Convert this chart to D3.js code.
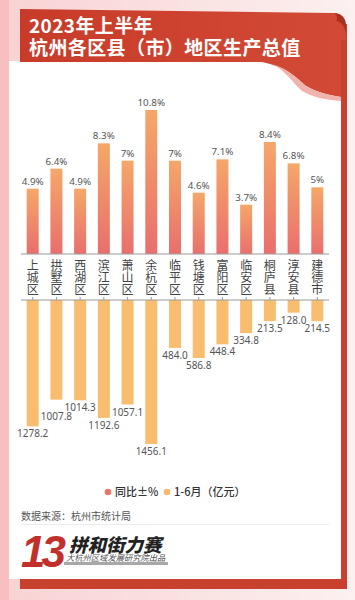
<!DOCTYPE html>
<html><head><meta charset="utf-8">
<script src="https://cdn.jsdelivr.net/npm/d3@7/dist/d3.min.js"></script>
<style>html,body{margin:0;padding:0;background:#fbe6e7;}svg{display:block;}</style>
</head><body>
<svg id="c" width="355" height="600"></svg>
<script>
const categories = ["上城区","拱墅区","西湖区","滨江区","萧山区","余杭区","临平区","钱塘区","富阳区","临安区","桐庐县","淳安县","建德市"];
const growth = [4.9, 6.4, 4.9, 8.3, 7, 10.8, 7, 4.6, 7.1, 3.7, 8.4, 6.8, 5];
const growthLabels = ["4.9%","6.4%","4.9%","8.3%","7%","10.8%","7%","4.6%","7.1%","3.7%","8.4%","6.8%","5%"];
const gdp = [1278.2, 1007.8, 1014.3, 1192.6, 1057.1, 1456.1, 484.0, 586.8, 448.4, 334.8, 213.5, 128.0, 214.5];
const seriesNames = ["同比±%", "1-6月（亿元）"];
const titleLines = ["2023年上半年", "杭州各区县（市）地区生产总值"];
const sourceText = "数据来源：杭州市统计局";

const svg = d3.select("#c");
const defs = svg.append("defs");
const CJK = "'Noto Sans CJK SC','Noto Sans',sans-serif";
const NUM = "'Noto Sans','Open Sans',sans-serif";

// gradients
const bg = defs.append("linearGradient").attr("id","bg").attr("x1","0").attr("x2","1").attr("y1","0").attr("y2","0");
bg.append("stop").attr("offset","0").attr("stop-color","#f9d2d3");
bg.append("stop").attr("offset","1").attr("stop-color","#fcf0f0");
const bn = defs.append("linearGradient").attr("id","bn").attr("x1","0").attr("x2","1").attr("y1","0").attr("y2","0");
bn.append("stop").attr("offset","0").attr("stop-color","#c83b29");
bn.append("stop").attr("offset","1").attr("stop-color","#d24a36");
const gb = defs.append("linearGradient").attr("id","gb").attr("x1","0").attr("x2","0").attr("y1","0").attr("y2","1");
gb.append("stop").attr("offset","0").attr("stop-color","#f5a769");
gb.append("stop").attr("offset","1").attr("stop-color","#e96f6d");

// background
svg.append("rect").attr("width",355).attr("height",600).attr("fill","url(#bg)");
svg.append("rect").attr("x",0).attr("y",0).attr("width",9).attr("height",600).attr("fill","#f8bfc1");

// red frame (right + bottom)
svg.append("rect").attr("x",337).attr("y",24).attr("width",10).attr("height",565).attr("fill","#c8412e");
svg.append("rect").attr("x",20).attr("y",579).attr("width",327).attr("height",10).attr("fill","#c8412e");
// white card
svg.append("rect").attr("x",9).attr("y",61).attr("width",332).attr("height",518).attr("fill","#ffffff");

// banner
svg.append("path").attr("fill","url(#bn)")
  .attr("d","M20,9 L333,13 C341,13 346,18 346,26 L346,40 L341,40 L341,97 C328,95 316,92 306,86 C295,76 285,67 262,62 L20,62 Z");
// page fold
svg.append("path").attr("fill","#f2b2ad")
  .attr("d","M272,64 C290,69 298,80 306,86 C316,92 328,95 341,97 L341,101 C326,100 312,97 302,91 C292,82 286,71 272,64 Z");
// curl
svg.append("path").attr("fill","#a9301f")
  .attr("d","M334,13 C341,13 346,18 346,26 L346,34 C345,27 342,22 336,21 C338,18 337,15 334,13 Z");

// title (one text element, two lines)
const title = svg.append("text")
  .attr("fill","#fff").attr("font-family",CJK).attr("font-weight",700)
  .attr("font-size",19).attr("letter-spacing",0.4);
title.selectAll("tspan").data(titleLines).join("tspan")
  .attr("x",29).attr("y",(d,i)=>33+i*21.5).text(d=>d);

// scales
const x = d3.scaleBand().domain(categories).range([21,329]).paddingInner(0.494).paddingOuter(0.24);
const yUp = d3.scaleLinear().domain([0,12]).range([254,94]);
const yLo = d3.scaleLinear().domain([0,1500]).range([300,448.3]);

// upper bars
svg.append("g").selectAll("rect").data(growth).join("rect")
  .attr("x",(d,i)=>x(categories[i])).attr("width",x.bandwidth())
  .attr("y",d=>yUp(d)).attr("height",d=>yUp(0)-yUp(d))
  .attr("fill","url(#gb)");
svg.append("g").selectAll("text").data(growth).join("text")
  .attr("x",(d,i)=>x(categories[i])+x.bandwidth()/2).attr("y",d=>yUp(d)-4)
  .attr("text-anchor","middle").attr("font-family",NUM).attr("font-size",9.8)
  .attr("fill","#555").text((d,i)=>growthLabels[i]);

// lower bars
svg.append("g").selectAll("rect").data(gdp).join("rect")
  .attr("x",(d,i)=>x(categories[i])).attr("width",x.bandwidth())
  .attr("y",yLo(0)).attr("height",d=>yLo(d)-yLo(0))
  .attr("fill","#f9bd70");

// lower labels with simple overlap avoidance
const ly = gdp.map(d=>yLo(d)+11);
for (let i=0;i<gdp.length-1;i++){
  if (Math.abs(ly[i]-ly[i+1])<5){
    if (gdp[i]<gdp[i+1]) ly[i]=ly[i+1]+8.7; else ly[i+1]=ly[i]+8.7;
  }
}
svg.append("g").selectAll("text").data(gdp).join("text")
  .attr("x",(d,i)=>x(categories[i])+x.bandwidth()/2).attr("y",(d,i)=>ly[i])
  .attr("text-anchor","middle").attr("font-family",NUM).attr("font-size",10)
  .attr("fill","#555").text(d=>d.toFixed(1));

// axes
const axUp = svg.append("g").attr("transform","translate(0,254)")
  .call(d3.axisBottom(x).tickSize(0).tickFormat(""));
const axLo = svg.append("g").attr("transform","translate(0,300)")
  .call(d3.axisTop(x).tickSize(3).tickFormat(""));
[axUp,axLo].forEach(a=>{a.select(".domain").attr("stroke","#9a9a9a").attr("d","M21,0H329");a.selectAll("line").attr("stroke","#9a9a9a");});

// vertical category labels (vertical writing mode)
svg.append("g").selectAll("text").data(categories).join("text")
  .attr("x",d=>x(d)+x.bandwidth()/2).attr("y",259.5)
  .style("writing-mode","vertical-rl")
  .attr("text-anchor","start").attr("font-family",CJK).attr("font-size",12)
  .attr("fill","#444").text(d=>d);

// legend
const legColors = ["#e8776a","#f7b96a"];
const legX = [108,167];
const lg = svg.append("g");
seriesNames.forEach((s,i)=>{
  lg.append("circle").attr("cx",legX[i]).attr("cy",492).attr("r",3.3).attr("fill",legColors[i]);
  lg.append("text").attr("x",legX[i]+7).attr("y",496).attr("font-family",CJK)
    .attr("font-size",11).attr("font-weight",500).attr("fill","#333").text(s);
});

// source
svg.append("text").attr("x",21).attr("y",519.5).attr("font-family",CJK).attr("font-size",10)
  .attr("fill","#555").text(sourceText);
svg.append("line").attr("x1",21).attr("x2",329).attr("y1",524.5).attr("y2",524.5).attr("stroke","#ececec");

// logo
const logo = svg.append("g");
logo.append("text").attr("x",21).attr("y",567).attr("font-family","'Liberation Sans',sans-serif")
  .attr("font-size",44).attr("font-weight",700).attr("font-style","italic").attr("fill","#c1302a")
  .attr("letter-spacing",-4).text("13");
logo.append("rect").attr("x",64).attr("y",562).attr("width",104).attr("height",3).attr("fill","#a8a8a8");
logo.append("text").attr("transform","translate(69,552) skewX(-14)").attr("font-family",CJK)
  .attr("font-size",18.5).attr("font-weight",900).attr("fill","#222").text("拼和街力赛");
logo.append("text").attr("transform","translate(66,561) skewX(-14)").attr("font-family",CJK)
  .attr("font-size",8.3).attr("fill","#555").text("大杭州区域发展研究院出品");
</script>
</body></html>
